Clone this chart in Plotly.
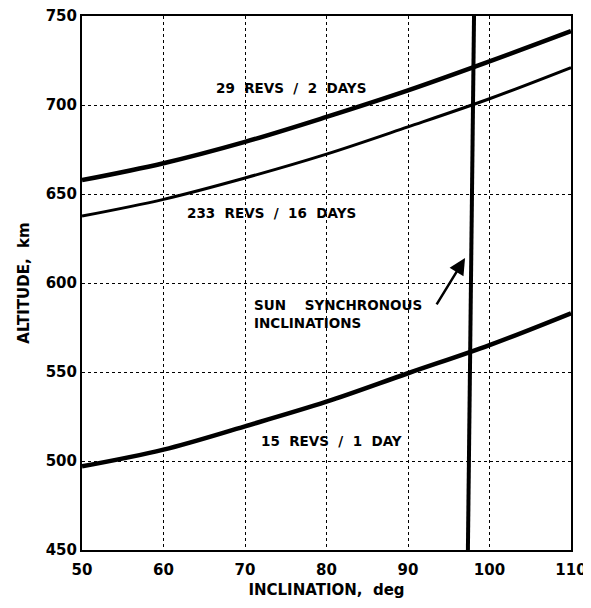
import plotly.graph_objects as go

incl = [50, 60, 70, 80, 90, 100, 110]
alt_29_2 = [657.8, 667.3, 679.3, 693.3, 708.2, 724.5, 741.5]
alt_233_16 = [637.6, 647.0, 659.0, 672.4, 687.7, 703.5, 721.0]
alt_15_1 = [497.0, 506.4, 519.5, 533.3, 549.3, 565.1, 583.0]
sun_incl = [97.35, 97.6, 98.1]
sun_alt = [450, 560, 750]

x_ticks = [50, 60, 70, 80, 90, 100, 110]
y_ticks = [450, 500, 550, 600, 650, 700, 750]

FONT = "DejaVu Sans"
SP = "\u00a0"

fig = go.Figure()
fig.add_trace(go.Scatter(x=incl, y=alt_29_2, mode="lines", line=dict(color="black", width=4.5, shape="spline"), showlegend=False))
fig.add_trace(go.Scatter(x=incl, y=alt_233_16, mode="lines", line=dict(color="black", width=3, shape="spline"), showlegend=False))
fig.add_trace(go.Scatter(x=incl, y=alt_15_1, mode="lines", line=dict(color="black", width=4.5, shape="spline"), showlegend=False))
fig.add_trace(go.Scatter(x=sun_incl, y=sun_alt, mode="lines", line=dict(color="black", width=4), showlegend=False))

ann_font = dict(family=FONT, size=13.5, color="black", weight="bold")
def spaced(s):
    return s.replace(" ", " " + SP)

fig.add_annotation(x=75.6, y=709.4, text=spaced("29 REVS / 2 DAYS"), showarrow=False, font=ann_font)
fig.add_annotation(x=73.3, y=639.3, text=spaced("233 REVS / 16 DAYS"), showarrow=False, font=ann_font)
fig.add_annotation(x=70.9, y=582.7, text="SUN" + SP * 4 + "SYNCHRONOUS<br>INCLINATIONS", showarrow=False,
                   font=ann_font, xanchor="left", align="left")
fig.add_annotation(x=80.6, y=511.5, text=spaced("15 REVS / 1 DAY"), showarrow=False, font=ann_font)
fig.add_annotation(x=97.0, y=614, ax=93.4, ay=587.2, xref="x", yref="y", axref="x", ayref="y",
                   text="", showarrow=True, arrowhead=2, arrowsize=1.3, arrowwidth=2.5, arrowcolor="black")

axis_common = dict(showline=True, linecolor="black", linewidth=2, mirror=True,
                   showgrid=True, gridcolor="black", gridwidth=1, griddash="dot",
                   ticks="", zeroline=False, automargin=False, ticklabeloverflow="allow",
                   tickfont=dict(family=FONT, size=15, color="black", weight="bold"))

title_font = dict(family=FONT, size=15, color="black", weight="bold")
fig.update_xaxes(range=[50, 110], tickvals=x_ticks, ticklabelstandoff=5,
                 title=dict(text="INCLINATION," + SP * 2 + "deg", font=title_font, standoff=6),
                 **axis_common)
fig.update_yaxes(range=[450, 750], tickvals=y_ticks,
                 title=dict(text="ALTITUDE," + SP * 2 + "km", font=title_font, standoff=12),
                 **axis_common)

fig.update_layout(width=583, height=600, margin=dict(l=74, r=20, t=8, b=58),
                  plot_bgcolor="white", paper_bgcolor="white")

fig.write_html("out.html")
